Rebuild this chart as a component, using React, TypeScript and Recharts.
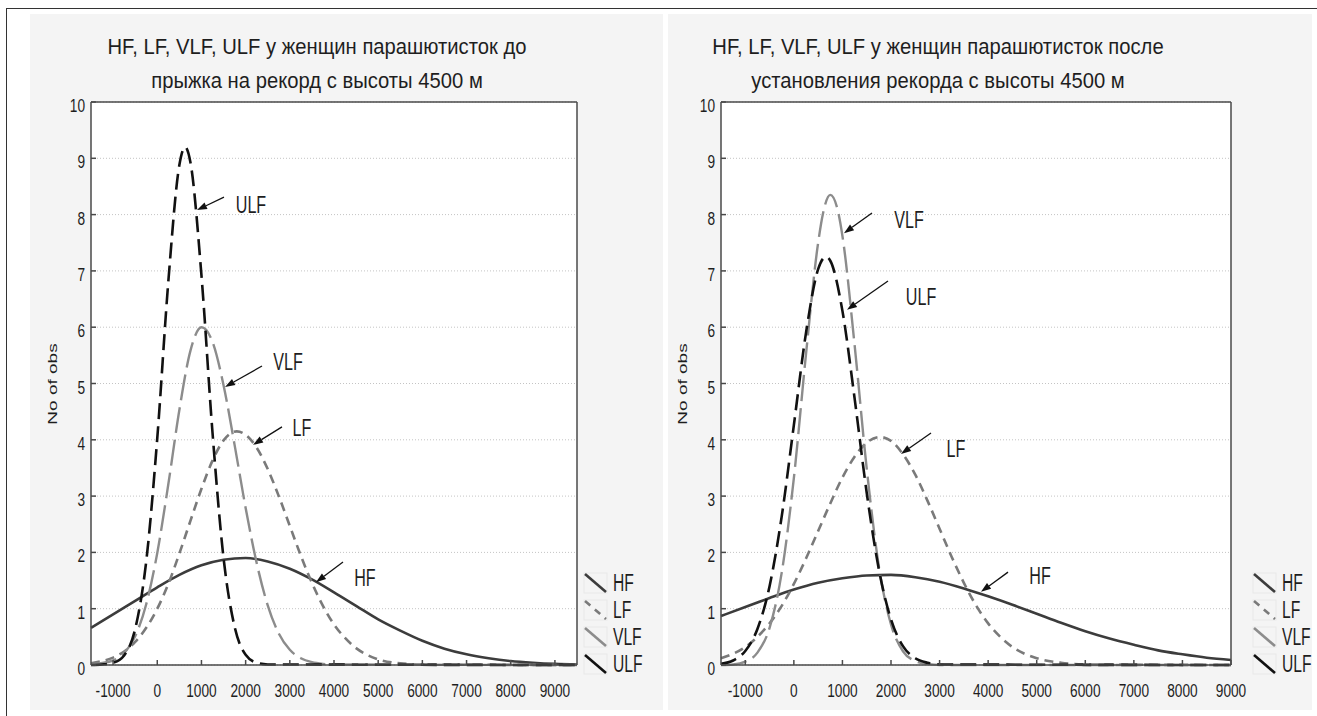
import React from "react";
import {
  LineChart,
  Line,
  XAxis,
  YAxis,
  CartesianGrid,
  ReferenceLine,
  ReferenceDot,
} from "recharts";

const FONT = '"Liberation Sans", Arial, sans-serif';

// ---- before the record jump (left panel) ----
const BEFORE_HF_X = [-1500, -1000, -500, 0, 500, 1000, 1500, 2000, 2500, 3000, 3500, 4000, 4500, 5000, 5500, 6000, 6500, 7000, 7500, 8000, 8500, 9000, 9500];
const BEFORE_HF_Y = [0.66, 0.9, 1.14, 1.38, 1.6, 1.77, 1.87, 1.9, 1.84, 1.71, 1.52, 1.29, 1.05, 0.81, 0.61, 0.43, 0.29, 0.19, 0.12, 0.07, 0.04, 0.02, 0.01];

const BEFORE_LF_X = [-1500, -1250, -1000, -750, -500, -250, 0, 250, 500, 750, 1000, 1250, 1500, 1800, 2000, 2250, 2500, 2750, 3000, 3250, 3500, 3750, 4000, 4250, 4500, 4750, 5000, 5500, 6000, 9500];
const BEFORE_LF_Y = [0.03, 0.07, 0.13, 0.24, 0.41, 0.66, 1.0, 1.44, 1.98, 2.56, 3.13, 3.63, 3.99, 4.15, 4.09, 3.86, 3.48, 3.0, 2.47, 1.94, 1.46, 1.05, 0.72, 0.48, 0.3, 0.18, 0.1, 0.03, 0.01, 0];

const BEFORE_VLF_X = [-1500, -1000, -750, -500, -250, 0, 250, 500, 750, 1000, 1250, 1500, 1750, 2000, 2250, 2500, 2750, 3000, 3250, 3500, 3750, 4000, 9500];
const BEFORE_VLF_Y = [0.01, 0.08, 0.21, 0.51, 1.08, 1.99, 3.21, 4.53, 5.58, 6.0, 5.74, 4.97, 3.91, 2.79, 1.81, 1.06, 0.56, 0.27, 0.12, 0.05, 0.02, 0.01, 0];

const BEFORE_ULF_X = [-1500, -1250, -1000, -750, -500, -250, 0, 250, 500, 630, 750, 1000, 1250, 1500, 1750, 2000, 2250, 2500, 9500];
const BEFORE_ULF_Y = [0, 0.01, 0.04, 0.17, 0.64, 1.84, 4.03, 6.81, 8.88, 9.2, 8.93, 6.92, 4.13, 1.9, 0.68, 0.18, 0.04, 0.01, 0];

// ---- after the record (right panel) ----
const AFTER_HF_X = [-1500, -1000, -500, 0, 500, 1000, 1500, 2000, 2500, 3000, 3500, 4000, 4500, 5000, 5500, 6000, 6500, 7000, 7500, 8000, 8500, 9000];
const AFTER_HF_Y = [0.87, 1.03, 1.19, 1.34, 1.46, 1.54, 1.59, 1.6, 1.56, 1.48, 1.36, 1.22, 1.07, 0.91, 0.75, 0.6, 0.47, 0.36, 0.26, 0.19, 0.13, 0.09];

const AFTER_LF_X = [-1500, -1250, -1000, -750, -500, -250, 0, 250, 500, 750, 1000, 1250, 1500, 1770, 2000, 2250, 2500, 2750, 3000, 3250, 3500, 3750, 4000, 4250, 4500, 4750, 5000, 5500, 6000, 9000];
const AFTER_LF_Y = [0.12, 0.2, 0.32, 0.5, 0.74, 1.05, 1.44, 1.89, 2.38, 2.87, 3.33, 3.7, 3.95, 4.05, 3.98, 3.74, 3.38, 2.92, 2.42, 1.92, 1.46, 1.06, 0.74, 0.5, 0.32, 0.2, 0.12, 0.04, 0.01, 0];

const AFTER_VLF_X = [-1500, -1250, -1000, -750, -500, -250, 0, 250, 500, 600, 750, 900, 1000, 1250, 1500, 1750, 2000, 2250, 2500, 2750, 3000, 9000];
const AFTER_VLF_Y = [0, 0.01, 0.06, 0.22, 0.66, 1.64, 3.32, 5.52, 7.5, 8.02, 8.35, 8.09, 7.62, 5.69, 3.49, 1.75, 0.72, 0.24, 0.07, 0.02, 0, 0];

const AFTER_ULF_X = [-1500, -1250, -1000, -750, -500, -250, 0, 250, 500, 660, 750, 1000, 1250, 1500, 1750, 2000, 2250, 2500, 2750, 3000, 9000];
const AFTER_ULF_Y = [0.02, 0.08, 0.25, 0.64, 1.4, 2.64, 4.26, 5.9, 7.03, 7.25, 7.18, 6.29, 4.74, 3.06, 1.7, 0.81, 0.33, 0.12, 0.04, 0.01, 0];

const X_TICKS = [-1000, 0, 1000, 2000, 3000, 4000, 5000, 6000, 7000, 8000, 9000];
const Y_TICKS = [0, 1, 2, 3, 4, 5, 6, 7, 8, 9, 10];

const SERIES_NAMES = ["HF", "LF", "VLF", "ULF"];
const SERIES_STYLE: Record<string, { color: string; width: number; dash?: string; icon?: string }> = {
  HF: { color: "#3c3c3c", width: 2.6 },
  LF: { color: "#7a7a7a", width: 2.6, dash: "9 6", icon: "7 6" },
  VLF: { color: "#8c8c8c", width: 2.4, dash: "26 7", icon: "30 2" },
  ULF: { color: "#111111", width: 2.6, dash: "16 7" },
};

// annotation arrows, in data units: [x, y]
const BEFORE_NOTES = [
  { text: "ULF", from: [1510, 8.31], to: [899, 8.08], at: [2121, 8.17] },
  { text: "VLF", from: [2370, 5.31], to: [1533, 4.94], at: [2959, 5.38] },
  { text: "LF", from: [2823, 4.23], to: [2167, 3.91], at: [3276, 4.21] },
  { text: "HF", from: [4204, 1.83], to: [3593, 1.47], at: [4700, 1.55] },
];
const AFTER_NOTES = [
  { text: "VLF", from: [1609, 8.03], to: [1032, 7.67], at: [2371, 7.9] },
  { text: "ULF", from: [1938, 6.82], to: [1094, 6.31], at: [2618, 6.54] },
  { text: "LF", from: [2824, 4.12], to: [2206, 3.75], at: [3338, 3.84] },
  { text: "HF", from: [4409, 1.65], to: [3853, 1.3], at: [5068, 1.58] },
];

const zip = (xs: number[], ys: number[]) => xs.map((x, i) => ({ x, y: ys[i] }));

const BEFORE = {
  HF: zip(BEFORE_HF_X, BEFORE_HF_Y),
  LF: zip(BEFORE_LF_X, BEFORE_LF_Y),
  VLF: zip(BEFORE_VLF_X, BEFORE_VLF_Y),
  ULF: zip(BEFORE_ULF_X, BEFORE_ULF_Y),
};
const AFTER = {
  HF: zip(AFTER_HF_X, AFTER_HF_Y),
  LF: zip(AFTER_LF_X, AFTER_LF_Y),
  VLF: zip(AFTER_VLF_X, AFTER_VLF_Y),
  ULF: zip(AFTER_ULF_X, AFTER_ULF_Y),
};

// narrow text: the original is squeezed horizontally
function SText({ x, y, size, sx = 0.75, anchor = "middle", children, fill = "#1e1e1e" }: any) {
  return (
    <text
      transform={`translate(${x},${y}) scale(${sx},1)`}
      textAnchor={anchor}
      fontSize={size}
      fontFamily={FONT}
      fill={fill}
    >
      {children}
    </text>
  );
}

const Arrow = (p: any) => {
  const { x1, y1, x2, y2 } = p;
  const a = Math.atan2(y2 - y1, x2 - x1);
  const L = 10;
  const W = 3.5;
  const bx = x2 - L * Math.cos(a);
  const by = y2 - L * Math.sin(a);
  const px = -Math.sin(a) * W;
  const py = Math.cos(a) * W;
  return (
    <g>
      <line x1={x1} y1={y1} x2={bx} y2={by} stroke="#111" strokeWidth={1.3} />
      <polygon points={`${x2},${y2} ${bx + px},${by + py} ${bx - px},${by - py}`} fill="#111" />
    </g>
  );
};

const XTick = (p: any) => (
  <SText x={p.x} y={p.y + 32} size={19} sx={0.72}>
    {p.payload.value}
  </SText>
);
const YTick = (p: any) => (
  <SText x={p.x - 6} y={p.y + 10} size={19} sx={0.72} anchor="end">
    {p.payload.value}
  </SText>
);

function Panel({ left, width, mLeft, mRight, xMax, data, notes }: any) {
  return (
    <div style={{ position: "absolute", left, top: 0 }}>
      <LineChart
        width={width}
        height={716}
        margin={{ top: 101, right: mRight, bottom: 21, left: mLeft }}
      >
        <CartesianGrid
          vertical={false}
          stroke="#c4c4c4"
          strokeDasharray="1 2"
          fill="#ffffff"
          fillOpacity={1}
        />
        <XAxis
          dataKey="x"
          type="number"
          domain={[-1500, xMax]}
          ticks={X_TICKS}
          height={30}
          tickSize={-5}
          tickMargin={5}
          stroke="#4a4a4a"
          strokeWidth={1.5}
          tick={XTick}
          interval={0}
        />
        <XAxis
          xAxisId="top"
          orientation="top"
          type="number"
          domain={[-1500, xMax]}
          ticks={X_TICKS}
          allowDataOverflow
          height={1}
          tickSize={-5}
          tick={false}
          stroke="#4a4a4a"
          strokeWidth={1.5}
        />
        <YAxis
          type="number"
          domain={[0, 10]}
          ticks={Y_TICKS}
          width={40}
          tickSize={-5}
          tickMargin={5}
          stroke="#4a4a4a"
          strokeWidth={1.5}
          tick={YTick}
          interval={0}
        />
        <YAxis
          yAxisId="right"
          orientation="right"
          type="number"
          domain={[0, 10]}
          ticks={Y_TICKS}
          allowDataOverflow
          width={1}
          tickSize={-5}
          tick={false}
          stroke="#4a4a4a"
          strokeWidth={1.5}
        />
        {SERIES_NAMES.map((name) => {
          const s = SERIES_STYLE[name];
          return (
            <Line
              key={name}
              data={data[name]}
              dataKey="y"
              type="monotone"
              stroke={s.color}
              strokeWidth={s.width}
              strokeDasharray={s.dash}
              dot={false}
              activeDot={false}
              isAnimationActive={false}
            />
          );
        })}
        {notes.map((n: any) => (
          <ReferenceLine
            key={`a-${n.text}`}
            segment={[
              { x: n.from[0], y: n.from[1] },
              { x: n.to[0], y: n.to[1] },
            ]}
            shape={Arrow}
          />
        ))}
        {notes.map((n: any) => (
          <ReferenceDot
            key={`t-${n.text}`}
            x={n.at[0]}
            y={n.at[1]}
            r={1}
            shape={(p: any) => (
              <SText x={p.cx} y={p.cy + 8} size={23} sx={0.7}>
                {n.text}
              </SText>
            )}
          />
        ))}
      </LineChart>
    </div>
  );
}

function Legend({ x }: { x: number }) {
  return (
    <g>
      {SERIES_NAMES.map((name, i) => {
        const s = SERIES_STYLE[name];
        const cy = 583 + i * 27;
        return (
          <g key={name}>
            <rect x={x} y={cy - 10} width={23} height={20} fill="none" stroke="#e8e8e8" />
            <line
              x1={x + 1}
              y1={cy - 9}
              x2={x + 22}
              y2={cy + 9}
              stroke={s.color}
              strokeWidth={2.6}
              strokeDasharray={s.icon}
            />
            <SText x={x + 29} y={cy + 8} size={23} sx={0.68} anchor="start">
              {name}
            </SText>
          </g>
        );
      })}
    </g>
  );
}

function Titles({ cx, lines, axisX }: any) {
  return (
    <g>
      <SText x={cx} y={54} size={22} sx={0.92}>
        {lines[0]}
      </SText>
      <SText x={cx} y={88} size={22} sx={0.92}>
        {lines[1]}
      </SText>
      <text
        transform={`translate(${axisX},384) rotate(-90) scale(1,0.72)`}
        textAnchor="middle"
        fontSize={19}
        fontFamily={FONT}
        fill="#1e1e1e"
        dy="0.36em"
      >
        No of obs
      </text>
    </g>
  );
}

export default function App() {
  return (
    <div
      style={{
        position: "absolute",
        left: 0,
        top: 0,
        width: 1317,
        height: 716,
        background: "#ffffff",
        overflow: "hidden",
      }}
    >
      <div
        style={{
          position: "absolute",
          left: 6,
          top: 8,
          width: 1330,
          height: 730,
          border: "1px solid #333",
        }}
      />
      <div style={{ position: "absolute", left: 30, top: 14, width: 633, height: 696, background: "#f4f4f4" }} />
      <div style={{ position: "absolute", left: 668, top: 14, width: 644, height: 696, background: "#f4f4f4" }} />

      <Panel left={0} width={663} mLeft={51} mRight={85} xMax={9500} data={BEFORE} notes={BEFORE_NOTES} />
      <Panel left={663} width={654} mLeft={18} mRight={85} xMax={9000} data={AFTER} notes={AFTER_NOTES} />

      <svg
        width={1317}
        height={716}
        style={{ position: "absolute", left: 0, top: 0, pointerEvents: "none" }}
      >
        <Titles
          cx={317}
          axisX={52}
          lines={["HF, LF, VLF, ULF  у женщин парашютисток до", "прыжка на рекорд с высоты 4500 м"]}
        />
        <Titles
          cx={938}
          axisX={682}
          lines={["HF, LF, VLF, ULF у женщин парашютисток после", "установления рекорда с высоты 4500 м"]}
        />
        <Legend x={584} />
        <Legend x={1253} />
      </svg>
    </div>
  );
}
